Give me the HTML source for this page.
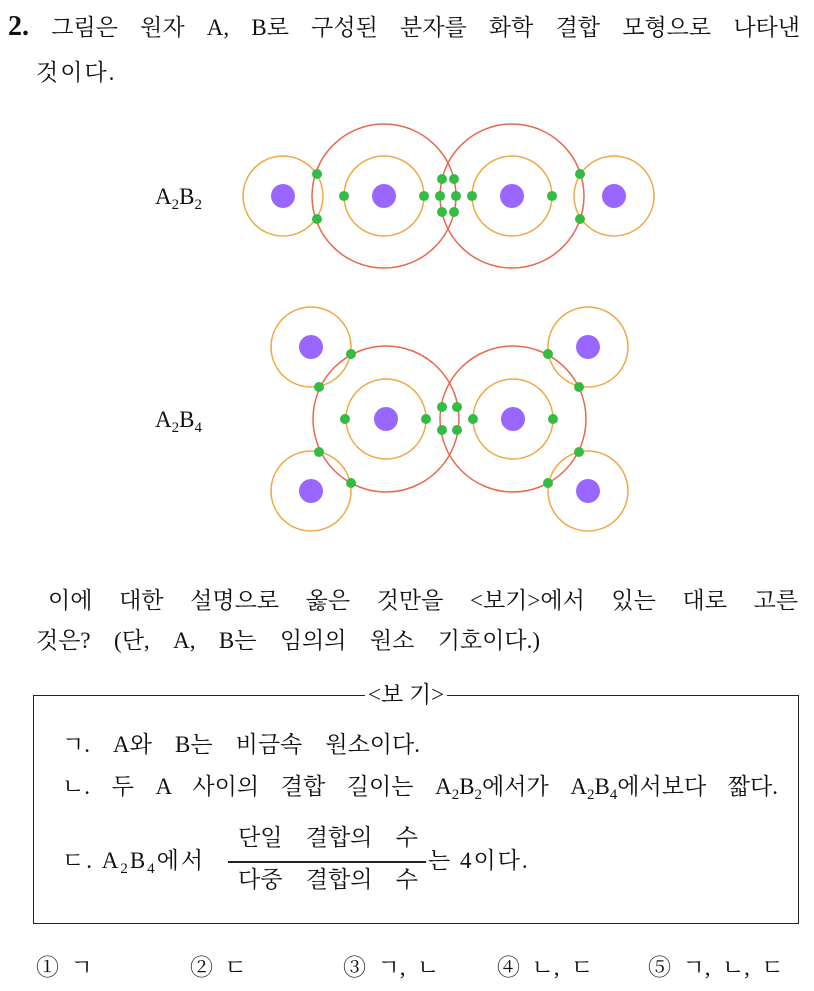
<!DOCTYPE html>
<html><head><meta charset="utf-8"><style>
html,body{margin:0;padding:0;background:#fff;}
body{width:814px;height:991px;position:relative;overflow:hidden;font-family:"Liberation Serif","Noto Serif CJK SC",serif;color:#111;}
.t{position:absolute;font-size:23px;line-height:30px;white-space:nowrap;}
.j{text-align:justify;text-align-last:justify;}
sub{font-size:15px;vertical-align:-5px;line-height:0;}
.box{position:absolute;left:33px;top:695px;width:764px;height:227px;border:1.5px solid #222;}
</style></head><body>
<div class="t j" style="left:8px;top:12px;width:792px;"><b style="font-size:28px">2.</b> 그림은 원자 A, B로 구성된 분자를 화학 결합 모형으로 나타낸</div>
<div class="t" style="left:36px;top:58px;letter-spacing:2px;">것이다.</div>

<div class="t" style="left:155px;top:182px;">A<sub>2</sub>B<sub>2</sub></div>
<div class="t" style="left:155px;top:405px;">A<sub>2</sub>B<sub>4</sub></div>

<svg style="position:absolute;left:0;top:0" width="814" height="600">
<g fill="none" stroke-width="1.5">
<circle cx="283" cy="196" r="40" stroke="#f0a844"/>
<circle cx="384" cy="196" r="40" stroke="#f0a844"/>
<circle cx="512" cy="196" r="40" stroke="#f0a844"/>
<circle cx="614" cy="196" r="40" stroke="#f0a844"/>
<circle cx="384" cy="196" r="72" stroke="#e8684a"/>
<circle cx="512" cy="196" r="72" stroke="#e8684a"/>
<circle cx="311" cy="347" r="40" stroke="#f0a844"/>
<circle cx="311" cy="491" r="40" stroke="#f0a844"/>
<circle cx="588" cy="347" r="40" stroke="#f0a844"/>
<circle cx="588" cy="491" r="40" stroke="#f0a844"/>
<circle cx="386" cy="419" r="40" stroke="#f0a844"/>
<circle cx="513" cy="419" r="40" stroke="#f0a844"/>
<circle cx="386" cy="419" r="73" stroke="#e8684a"/>
<circle cx="513" cy="419" r="73" stroke="#e8684a"/>
</g>
<g fill="#9966ff">
<circle cx="283" cy="196" r="12"/><circle cx="384" cy="196" r="12"/><circle cx="512" cy="196" r="12"/><circle cx="614" cy="196" r="12"/>
<circle cx="311" cy="347" r="12"/><circle cx="311" cy="491" r="12"/><circle cx="588" cy="347" r="12"/><circle cx="588" cy="491" r="12"/>
<circle cx="386" cy="419" r="12"/><circle cx="513" cy="419" r="12"/>
</g>
<g fill="#33bb44">
<circle cx="317" cy="174" r="5"/><circle cx="317" cy="219" r="5"/><circle cx="344" cy="196" r="5"/><circle cx="424" cy="196" r="5"/>
<circle cx="442" cy="179" r="5"/><circle cx="454" cy="179" r="5"/><circle cx="440" cy="196" r="5"/><circle cx="456" cy="196" r="5"/>
<circle cx="442" cy="212" r="5"/><circle cx="454" cy="212" r="5"/><circle cx="472" cy="196" r="5"/><circle cx="552" cy="196" r="5"/>
<circle cx="580" cy="174" r="5"/><circle cx="580" cy="219" r="5"/>
<circle cx="351" cy="354" r="5"/><circle cx="319" cy="387" r="5"/><circle cx="319" cy="452" r="5"/><circle cx="351" cy="483" r="5"/>
<circle cx="345" cy="419" r="5"/><circle cx="426" cy="419" r="5"/>
<circle cx="442" cy="407" r="5"/><circle cx="457" cy="407" r="5"/><circle cx="442" cy="430" r="5"/><circle cx="457" cy="430" r="5"/>
<circle cx="473" cy="419" r="5"/><circle cx="553" cy="419" r="5"/>
<circle cx="548" cy="354" r="5"/><circle cx="579" cy="387" r="5"/><circle cx="579" cy="452" r="5"/><circle cx="548" cy="483" r="5"/>
</g>
</svg>

<div class="t j" style="left:48px;top:586px;width:750px;">이에 대한 설명으로 옳은 것만을 &lt;보기&gt;에서 있는 대로 고른</div>
<div class="t j" style="left:36px;top:626px;width:504px;">것은? (단, A, B는 임의의 원소 기호이다.)</div>

<div class="box"></div>
<div class="t" style="left:365px;top:680px;background:#fff;padding:0 3px;">&lt;보 기&gt;</div>
<div class="t j" style="left:62px;top:730px;width:358px;">ㄱ. A와 B는 비금속 원소이다.</div>
<div class="t j" style="left:62px;top:772px;width:716px;">ㄴ. 두 A 사이의 결합 길이는 A<sub>2</sub>B<sub>2</sub>에서가 A<sub>2</sub>B<sub>4</sub>에서보다 짧다.</div>
<div class="t" style="left:62px;top:846px;letter-spacing:2px;">ㄷ. A<sub>2</sub>B<sub>4</sub>에서</div>
<div class="t j" style="left:238px;top:823px;width:180px;">단일 결합의 수</div>
<div style="position:absolute;left:228px;top:861px;width:198px;height:1.5px;background:#222;"></div>
<div class="t j" style="left:238px;top:865px;width:180px;">다중 결합의 수</div>
<div class="t" style="left:428px;top:846px;letter-spacing:2px;">는 4이다.</div>

<div class="t" style="left:36px;top:953px;">①&nbsp;&nbsp;ㄱ</div>
<div class="t" style="left:190px;top:953px;">②&nbsp;&nbsp;ㄷ</div>
<div class="t" style="left:343px;top:953px;">③&nbsp;&nbsp;ㄱ,&nbsp;&nbsp;ㄴ</div>
<div class="t" style="left:497px;top:953px;">④&nbsp;&nbsp;ㄴ,&nbsp;&nbsp;ㄷ</div>
<div class="t" style="left:648px;top:953px;">⑤&nbsp;&nbsp;ㄱ,&nbsp;&nbsp;ㄴ,&nbsp;&nbsp;ㄷ</div>
</body></html>
